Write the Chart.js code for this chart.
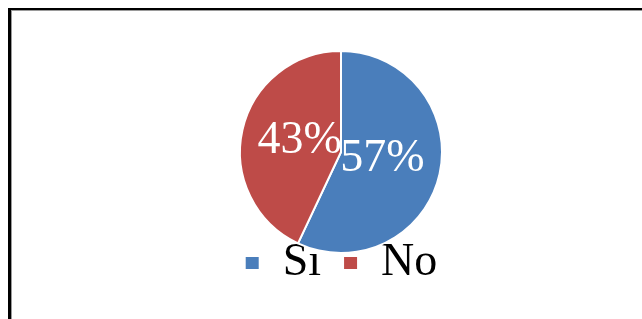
<!DOCTYPE html>
<html>
<head>
<meta charset="utf-8">
<script src="https://cdn.jsdelivr.net/npm/chart.js@4/dist/chart.umd.min.js"></script>
<style>
  html, body { margin: 0; padding: 0; background: #fff; }
  body { width: 642px; height: 319px; position: relative; overflow: hidden; }
  #frame {
    position: absolute; left: 8px; top: 8px; right: 0; bottom: 0;
    border-left: 3px solid #000; border-top: 2px solid #000;
    box-shadow: inset 1px 1px 0 #9a9a9a;
  }
  #c { position: absolute; left: 0; top: 0; }
</style>
</head>
<body>
<div id="frame"></div>
<canvas id="c" width="642" height="319"></canvas>
<script>
const categories = ['Si', 'No'];
const values = [57, 43];
const colors = ['#4A7EBB', '#BE4B48'];

const serif = '"Liberation Serif", "Times New Roman", serif';

const pctLabels = {
  id: 'pctLabels',
  afterDatasetsDraw(chart) {
    const ctx = chart.ctx;
    const meta = chart.getDatasetMeta(0);
    const total = values.reduce((a, b) => a + b, 0);
    ctx.save();
    ctx.font = '46px ' + serif;
    ctx.fillStyle = '#ffffff';
    ctx.textAlign = 'center';
    ctx.textBaseline = 'middle';
    const lift = 2;
    meta.data.forEach((arc, i) => {
      const p = arc.getProps(['x', 'y', 'startAngle', 'endAngle', 'outerRadius'], true);
      const mid = (p.startAngle + p.endAngle) / 2;
      const r = p.outerRadius * 0.42;
      ctx.fillText(Math.round(values[i] / total * 100) + '%',
        p.x + Math.cos(mid) * r, p.y + Math.sin(mid) * r - lift);
    });
    ctx.restore();
  }
};

new Chart(document.getElementById('c'), {
  type: 'pie',
  data: {
    labels: categories,
    datasets: [{
      data: values,
      backgroundColor: colors,
      borderColor: '#ffffff',
      borderWidth: 2,
      radius: 101,
      clip: false
    }]
  },
  options: {
    responsive: false,
    animation: false,
    layout: { padding: { left: 40, right: 0, top: 86, bottom: 23 } },
    plugins: {
      tooltip: { enabled: false },
      legend: {
        position: 'bottom',
        labels: {
          boxWidth: 15,
          boxHeight: 14,
          padding: 22,
          color: '#000000',
          font: { family: serif, size: 46 }
        }
      }
    }
  },
  plugins: [pctLabels]
});
</script>
</body>
</html>
